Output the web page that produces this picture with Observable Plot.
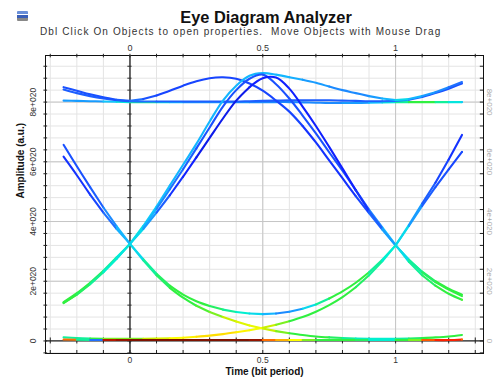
<!DOCTYPE html>
<html><head><meta charset="utf-8">
<script src="https://cdn.jsdelivr.net/npm/d3@7"></script>
<script src="https://cdn.jsdelivr.net/npm/@observablehq/plot@0.6"></script>
<style>
body{margin:0;background:#fff;}
#wrap{position:relative;width:494px;height:377px;overflow:hidden;font-family:"Liberation Sans",Arial,sans-serif;}
#title{position:absolute;left:0;width:532px;top:9px;text-align:center;font-weight:bold;font-size:16.4px;line-height:16px;color:#111;z-index:2;}
#sub{position:absolute;left:40px;top:27px;font-size:10px;line-height:10px;color:#333;letter-spacing:1.12px;white-space:nowrap;z-index:2;}
#icon{position:absolute;left:17px;top:11px;width:11px;height:10px;z-index:2;background:linear-gradient(#6a8fd8 0 30%,#fff 30% 40%,#3a5fb8 40% 70%,#888 70%);border-radius:1px;}
#chart{position:absolute;left:0;top:0;}
</style></head>
<body>
<div id="wrap">
<div id="icon"></div>
<div id="title">Eye Diagram Analyzer</div>
<div id="sub">Dbl Click On Objects to open properties.&nbsp; Move Objects with Mouse Drag</div>
<div id="chart"></div>
</div>
<script>
// sample times (bit period)
const T = [-0.25,-0.2,-0.15,-0.1,-0.05,0,0.05,0.1,0.15,0.2,0.25,0.3,0.35,0.4,0.45,0.5,0.55,0.6,0.65,0.7,0.75,0.8,0.85,0.9,0.95,1,1.05,1.1,1.15,1.2,1.25];

// amplitude (x 1e20 a.u.) and density level of each trace
const v111 = [8.05,8.04,8.03,8.02,8.01,8.0,8.0,8.0,8.0,8.0,8.0,8.0,8.0,8.0,8.0,8.0,8.0,8.0,7.99,7.98,7.97,7.97,7.97,7.98,7.99,8.0,8.0,8.0,8.0,8.0,8.0];
const d111 = [0.3,0.3,0.3,0.35,0.4,0.45,0.45,0.4,0.35,0.3,0.3,0.3,0.3,0.3,0.28,0.28,0.28,0.28,0.28,0.28,0.28,0.3,0.3,0.35,0.4,0.45,0.5,0.5,0.45,0.4,0.35];
const v111h = [8.42,8.3,8.2,8.12,8.06,8.03,8.02,8.02,8.02,8.02,8.02,8.02,8.02,8.02,8.03,8.04,8.05,8.06,8.06,8.06,8.06,8.05,8.04,8.03,8.03,8.04,8.08,8.17,8.3,8.45,8.62];
const d111h = [0.22,0.22,0.22,0.22,0.22,0.24,0.24,0.22,0.22,0.22,0.22,0.22,0.22,0.22,0.22,0.22,0.22,0.22,0.22,0.22,0.22,0.22,0.22,0.22,0.24,0.26,0.22,0.2,0.2,0.2,0.2];
const v110 = [8.5,8.38,8.26,8.16,8.08,8.04,8.1,8.22,8.38,8.55,8.7,8.8,8.83,8.78,8.62,8.38,8.05,7.68,7.2,6.65,6.05,5.45,4.85,4.28,3.73,3.2,2.72,2.32,2.0,1.75,1.55];
const d110 = [0.2,0.2,0.2,0.2,0.22,0.25,0.2,0.18,0.18,0.18,0.18,0.18,0.18,0.18,0.18,0.18,0.18,0.18,0.15,0.15,0.15,0.15,0.18,0.25,0.33,0.4,0.45,0.48,0.5,0.5,0.5];
const v011 = [1.3,1.6,1.95,2.35,2.8,3.25,3.85,4.5,5.2,5.9,6.6,7.35,8.05,8.55,8.88,8.97,8.92,8.83,8.75,8.65,8.52,8.4,8.3,8.2,8.12,8.07,8.1,8.2,8.33,8.5,8.67];
const d011 = [0.5,0.5,0.48,0.45,0.42,0.4,0.36,0.34,0.33,0.33,0.33,0.33,0.33,0.33,0.33,0.33,0.33,0.32,0.3,0.3,0.28,0.28,0.28,0.3,0.33,0.38,0.33,0.3,0.28,0.25,0.25];
const v010a = [1.28,1.57,1.92,2.32,2.77,3.25,3.8,4.42,5.08,5.75,6.45,7.15,7.85,8.4,8.78,8.92,8.6,8.12,7.55,6.95,6.32,5.7,5.05,4.4,3.8,3.22,2.65,2.2,1.85,1.58,1.38];
const d010a = [0.5,0.5,0.48,0.45,0.42,0.38,0.33,0.28,0.25,0.22,0.2,0.2,0.2,0.2,0.2,0.2,0.2,0.2,0.2,0.2,0.2,0.2,0.22,0.28,0.34,0.4,0.45,0.48,0.5,0.5,0.52];
const v010b = [1.27,1.55,1.9,2.3,2.75,3.25,3.75,4.3,4.88,5.5,6.15,6.8,7.45,8.05,8.5,8.8,8.82,8.45,7.85,7.2,6.5,5.78,5.05,4.35,3.75,3.2,2.72,2.3,1.97,1.72,1.5];
const d010b = [0.5,0.48,0.45,0.42,0.4,0.38,0.3,0.22,0.15,0.12,0.1,0.1,0.1,0.1,0.12,0.12,0.12,0.12,0.12,0.12,0.12,0.12,0.15,0.22,0.3,0.38,0.45,0.48,0.5,0.5,0.5];
const v100 = [6.57,5.85,5.15,4.47,3.84,3.25,2.7,2.2,1.78,1.45,1.18,0.97,0.8,0.65,0.52,0.42,0.33,0.26,0.2,0.15,0.12,0.1,0.08,0.07,0.07,0.07,0.08,0.1,0.12,0.15,0.2];
const d100 = [0.2,0.2,0.22,0.28,0.33,0.38,0.45,0.48,0.5,0.5,0.52,0.55,0.6,0.62,0.63,0.6,0.55,0.5,0.5,0.5,0.48,0.45,0.43,0.42,0.42,0.45,0.48,0.5,0.5,0.5,0.5];
const v101 = [6.17,5.55,4.9,4.3,3.75,3.25,2.74,2.25,1.85,1.55,1.33,1.17,1.05,0.97,0.92,0.9,0.92,0.98,1.08,1.22,1.42,1.66,1.95,2.3,2.72,3.2,3.88,4.6,5.3,6.08,6.9];
const d101 = [0.15,0.15,0.18,0.25,0.32,0.38,0.45,0.48,0.5,0.5,0.5,0.48,0.45,0.42,0.38,0.33,0.28,0.3,0.38,0.45,0.5,0.5,0.5,0.45,0.42,0.38,0.3,0.22,0.18,0.15,0.15];
const v001 = [0.12,0.1,0.08,0.07,0.07,0.07,0.07,0.08,0.09,0.11,0.14,0.18,0.23,0.29,0.36,0.44,0.54,0.66,0.8,0.98,1.2,1.47,1.8,2.2,2.67,3.2,3.85,4.52,5.15,5.75,6.33];
const d001 = [0.45,0.45,0.5,0.55,0.55,0.55,0.6,0.62,0.65,0.66,0.68,0.68,0.68,0.66,0.64,0.6,0.55,0.5,0.5,0.5,0.5,0.5,0.48,0.45,0.42,0.38,0.3,0.22,0.2,0.18,0.2];
const v000 = [0.05,0.04,0.03,0.03,0.03,0.03,0.03,0.03,0.03,0.03,0.03,0.03,0.03,0.03,0.03,0.03,0.03,0.03,0.03,0.03,0.03,0.03,0.03,0.03,0.03,0.03,0.03,0.03,0.03,0.03,0.05];
const d000 = [0.78,0.45,0.25,0.92,0.95,0.97,0.97,0.97,0.97,0.97,0.97,0.97,0.97,0.97,0.95,0.78,0.72,0.65,0.55,0.5,0.5,0.5,0.48,0.42,0.42,0.5,0.55,0.8,0.85,0.85,0.78];

// axes
const xTickLabels = [0, 0.5, 1];
const yTickValues = [0, 2, 4, 6, 8];
const yTickText = ["0", "2e+020", "4e+020", "6e+020", "8e+020"];
const xMajorGrid = [0.5, 1];
const yMajorGrid = [2, 4, 6, 8];
const xDomain = [-0.318, 1.331];
const yDomain = [-0.42, 9.56];

// density colour map (jet-like)
const densStops = [0, 0.12, 0.25, 0.35, 0.42, 0.5, 0.6, 0.65, 0.75, 0.85, 1];
const densColors = ["#000080", "#1020ff", "#2070ff", "#10c8ff", "#00f0d0", "#30f040", "#c8f000", "#ffff00", "#ff9000", "#ff2000", "#601000"];

const traces = [
  ["111", v111, d111], ["111h", v111h, d111h], ["110", v110, d110], ["011", v011, d011],
  ["010a", v010a, d010a], ["010b", v010b, d010b], ["101", v101, d101], ["100", v100, d100],
  ["001", v001, d001], ["000", v000, d000]
];
const rows = traces.flatMap(([k, v, d]) => T.map((t, i) => ({k, t, v: v[i], d: d[i]})));

const [X0, X1] = xDomain, [Y0, Y1] = yDomain;
const xMinor = d3.range(-3, 14).map(i => i / 10);
const yMinor = d3.range(-1, 24).map(i => +(i * 0.4).toFixed(2));

const chart = Plot.plot({
  width: 494, height: 377,
  marginLeft: 45, marginRight: 11, marginTop: 55, marginBottom: 24,
  style: {fontFamily: "Liberation Sans, Arial, sans-serif", background: "transparent", overflow: "visible"},
  x: {domain: xDomain, axis: null},
  y: {domain: yDomain, axis: null},
  color: {type: "linear", domain: densStops, range: densColors},
  marks: [
    Plot.ruleX(xMinor, {stroke: "#e4e4e4"}),
    Plot.ruleY(yMinor, {stroke: "#e4e4e4"}),
    Plot.ruleX(xMajorGrid, {stroke: "#c6c6c6"}),
    Plot.ruleY(yMajorGrid, {stroke: "#c6c6c6"}),
    Plot.frame({stroke: "#111"}),
    Plot.ruleX([0], {stroke: "#444", strokeWidth: 1.6}),
    Plot.ruleY([0], {stroke: "#222", strokeWidth: 1.3}),
    Plot.ruleY(yMinor, {x1: -0.008, x2: 0.008, stroke: "#333"}),
    Plot.ruleX(xMinor, {y1: -0.1, y2: 0.1, stroke: "#222"}),
    Plot.ruleX(xMinor, {y1: Y1 - 0.08, y2: Y1 + 0.04, stroke: "#222"}),
    Plot.ruleX(xMinor, {y1: Y0, y2: Y0 + 0.1, stroke: "#222"}),
    Plot.ruleY(yMinor, {x1: X0 - 0.006, x2: X0 + 0.008, stroke: "#222"}),
    Plot.ruleY(yMinor, {x1: X1 - 0.012, x2: X1, stroke: "#222"}),
    Plot.line(rows, {x: "t", y: "v", z: "k", stroke: "d", strokeWidth: 2.1, curve: "catmull-rom"}),
    Plot.text(xTickLabels, {x: d => d, y: Y0, dy: 7, text: d => String(d), fontSize: 8.5, fill: "#333"}),
    Plot.text(xTickLabels, {x: d => d, y: Y1, dy: -7, text: d => String(d), fontSize: 9, fill: "#333"}),
    Plot.text(yTickValues, {x: X0, y: d => d, dx: -12, rotate: -90, text: (d, i) => yTickText[i], fontSize: 8.5, fill: "#333"}),
    Plot.text(yTickValues, {x: X1, y: d => d, dx: 6, rotate: 90, text: (d, i) => yTickText[i], fontSize: 8, fill: "#aaa"}),
    Plot.text(["Amplitude (a.u.)"], {frameAnchor: "left", dx: -25, dy: -6, rotate: -90, fontWeight: "bold", fontSize: 10, fill: "#111"}),
    Plot.text(["Time (bit period)"], {frameAnchor: "bottom", dy: 21, fontWeight: "bold", fontSize: 10, fill: "#111"})
  ]
});
document.getElementById("chart").append(chart);
</script>
</body></html>
